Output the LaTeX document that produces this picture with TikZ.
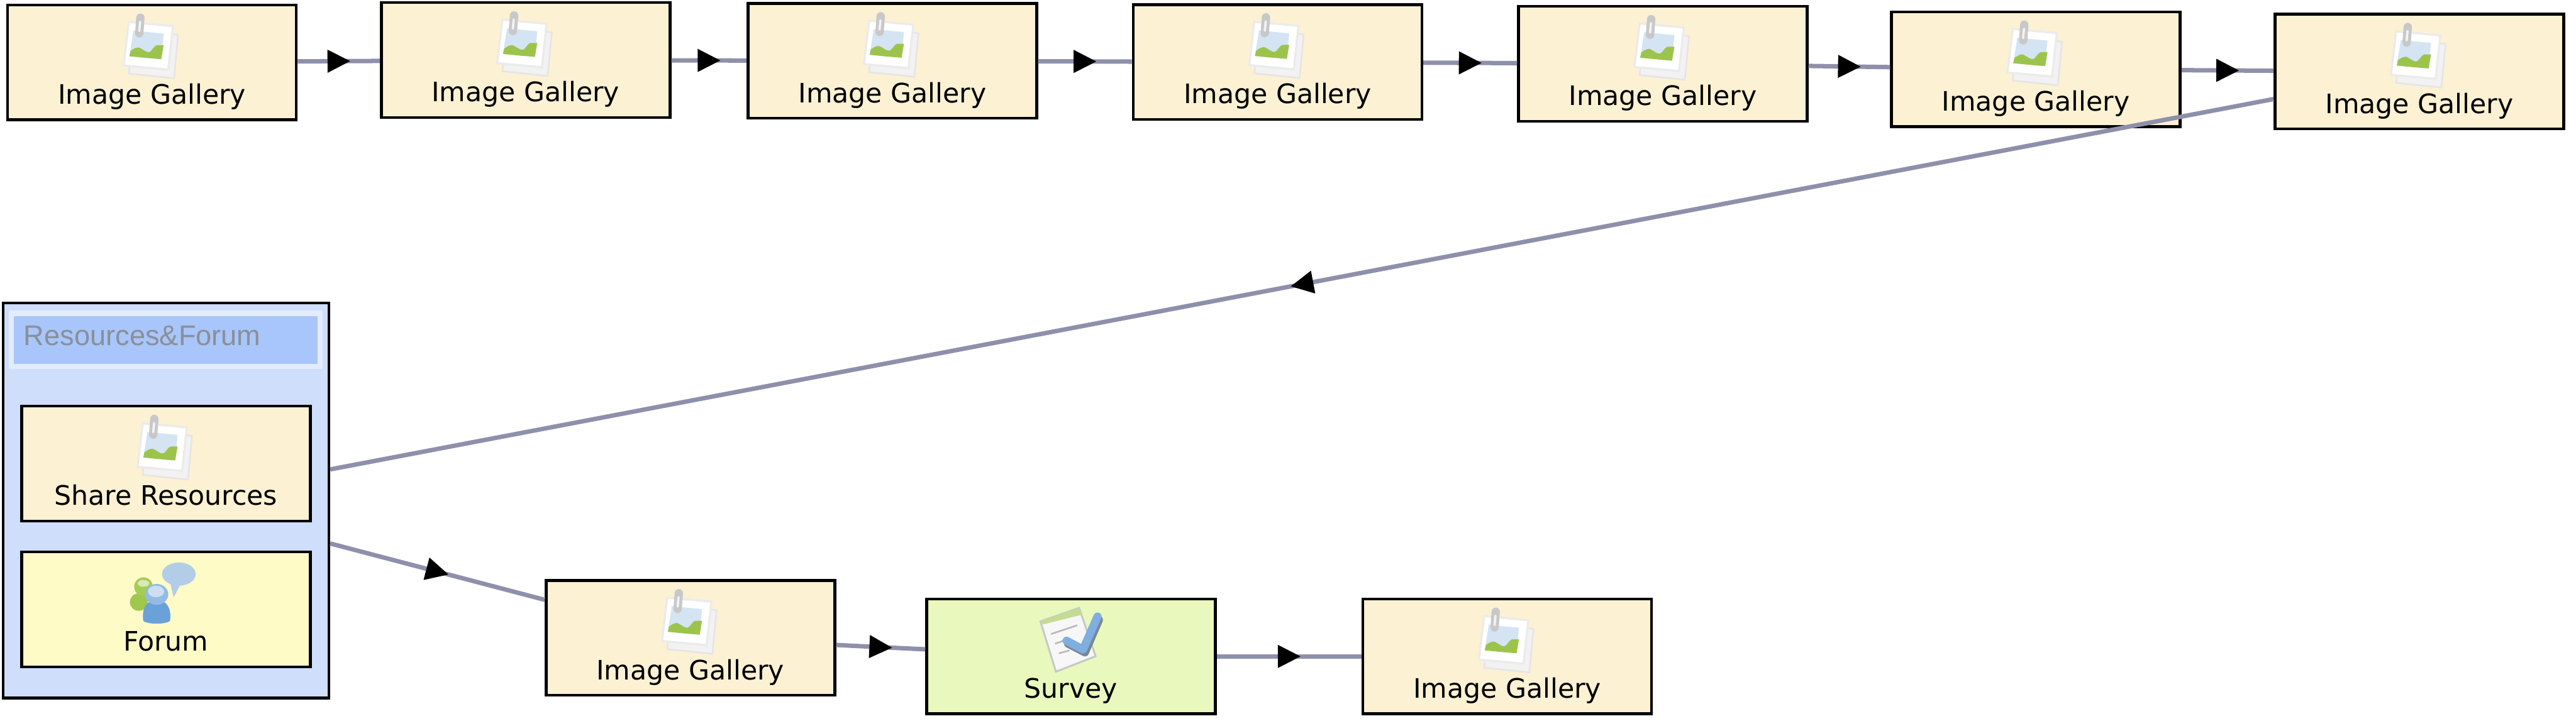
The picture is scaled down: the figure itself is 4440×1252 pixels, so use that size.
\documentclass[tikz,border=0pt]{standalone}
\usepackage{fontspec}
\setmainfont{DejaVu Sans}
\newfontfamily\arialfont{Liberation Sans}
\usetikzlibrary{decorations.markings}
\definecolor{galfill}{HTML}{FCF1D3}
\definecolor{forumfill}{HTML}{FEFBC7}
\definecolor{surveyfill}{HTML}{E9F8BD}
\definecolor{groupfill}{HTML}{CEDEFB}
\definecolor{titlefill}{HTML}{A8C6FB}
\definecolor{titleedge}{HTML}{E2ECFE}
\definecolor{titletext}{HTML}{8A8F99}
\definecolor{linkcol}{HTML}{8E90AB}
\tikzset{
  activity/.style={draw=black,line width=1.2pt,inner sep=0pt,minimum width=124.4pt,
    text height=42.7pt,text depth=6.8pt,font=\fontsize{11.55}{13}\selectfont},
  gallerybox/.style={activity,fill=galfill},
  forumbox/.style={activity,fill=forumfill},
  surveybox/.style={activity,fill=surveyfill},
  groupbox/.style={draw=black,line width=1.2pt,fill=groupfill,inner sep=0pt,
    minimum width=140.4pt,minimum height=170.4pt},
  titlebox/.style={draw=titleedge,line width=2.25pt,fill=titlefill,inner ysep=0pt,inner xsep=5.375pt,
    text height=13.75pt,text depth=9.125pt,text=titletext,font=\arialfont\fontsize{12.25}{14}\selectfont},
  flow/.style={draw=linkcol,line width=1.9pt,postaction={decorate},
    decoration={markings,mark=at position .5 with {\fill[black] (19.5,0)--(-19.5,-20)--(-19.5,20)--cycle;}}},
  pics/galleryicon/.style={code={
    \fill[draw=black!10,line width=.7pt,fill=black!5] (-32,-57)--(45,-47.5)--(38,27.5)--(-40,19.5)--cycle;
    \fill[draw=black!8,line width=.9pt,fill=white] (-40,-69.5)--(36,-62.5)--(28,12.5)--(-49,5.5)--cycle;
    \fill[color={rgb,255:red,212;green,228;blue,243}] (-32,-54.5)--(20,-49.5)--(16,-5.5)--(-39,-10.5)--cycle;
    \fill[color={rgb,255:red,156;green,196;blue,76}] (-37,-19.5) .. controls (-30,-25) and (-26,-26) .. (-22,-25.5)
       .. controls (-15,-22) and (-10,-17) .. (-5,-17.5) .. controls (0,-19) and (3,-28) .. (8,-29.5) -- (20,-29.5)
       -- (16,-5.5) -- (-9,-7.5) -- (-39,-10.5) -- cycle;
    \draw[color={rgb,255:red,200;green,200;blue,200},line width=3.6pt,line cap=round] (-20,-77)--(-22,-50);
    \draw[color=black!5,line width=1pt,line cap=round] (-20.5,-70)--(-22,-54);
  }},
  pics/forumicon/.style={code={
    \fill[color={rgb,255:red,179;green,205;blue,232}] (22.3,-61) ellipse [x radius=29,y radius=20];
    \fill[color={rgb,255:red,179;green,205;blue,232}] (7.3,-46)--(13.3,-21)--(24,-41)--cycle;
    \fill[color={rgb,255:red,160;green,200;blue,76}] (-46.7,-12.7) ellipse [x radius=15.5,y radius=15];
    \fill[color={rgb,255:red,165;green,204;blue,85}] (-38.7,-39.3) circle [radius=16];
    \fill[color={rgb,255:red,218;green,232;blue,180}] (-38.7,-45) ellipse [x radius=10,y radius=6];
    \fill[color={rgb,255:red,106;green,161;blue,217}] (-39,20) .. controls (-42,-2) and (-34,-16) .. (-16,-16)
       .. controls (2,-16) and (10,-2) .. (7,20) .. controls (-2,26) and (-30,26) .. (-39,20) -- cycle;
    \fill[color={rgb,255:red,146;green,187;blue,230}] (-16,-26) ellipse [x radius=20,y radius=18];
    \fill[color={rgb,255:red,205;green,222;blue,242}] (-17,-31) ellipse [x radius=14,y radius=10];
  }},
  pics/surveyicon/.style={code={
    \fill[draw=black!22,line width=.8pt,fill=black!3] (-52.7,-60.3)--(14,-83.7)--(42.3,-.3)--(-26,26.3)--cycle;
    \fill[color={rgb,255:red,196;green,220;blue,146}] (-52.7,-60.3)--(14,-83.7)--(19,-72)--(-47.7,-55.3)--cycle;
    \draw[color=black!28,line width=.7pt] (-34.3,-38.7)--(10.7,-53.7) (-27.7,-22)--(-12.7,-27) (-21,-5.3)--(-2.7,-10.3);
    \draw[color={rgb,255:red,120;green,135;blue,150},line width=3.5pt,line cap=round,line join=round] (-5,-22)--(24,-7)--(48,-63);
    \draw[color={rgb,255:red,127;green,174;blue,224},line width=3.5pt,line cap=round,line join=round] (-7.7,-27)--(20.7,-12)--(45.7,-68.7);
  }},
}
\newcommand{\boxlabelA}{Image Gallery}
\begin{document}
\begin{tikzpicture}[x=.25pt,y=-.25pt]
\useasboundingbox (0,0) rectangle (4440,1252);
% group
\node[groupbox] (grp) at (286,863) {};
\node[titlebox] (ttl) at (285.5,586) {\makebox[122.25pt][l]{Resources\&Forum}};
\node[gallerybox] (shr) at (286,799.5) {Share Resources};
\node[forumbox] (frm) at (286,1051) {Forum};
% top row
\node[gallerybox] (g1) at (262,107.5) {\boxlabelA};
\node[gallerybox] (g2) at (906,103.5) {\boxlabelA};
\node[gallerybox] (g3) at (1538,105) {\boxlabelA};
\node[gallerybox] (g4) at (2202,107) {\boxlabelA};
\node[gallerybox] (g5) at (2866,110) {\boxlabelA};
\node[gallerybox] (g6) at (3509,119.5) {\boxlabelA};
\node[gallerybox] (g7) at (4170,123.5) {\boxlabelA};
% bottom row
\node[gallerybox] (g8) at (1190,1100) {\boxlabelA};
\node[surveybox] (sv) at (1846,1132) {Survey};
\node[gallerybox] (g9) at (2598,1132) {\boxlabelA};
% icons
\foreach \n in {g1,g2,g3,g4,g5,g6,g7,g8,g9,shr} \pic at (\n.center) {galleryicon};
\pic at (frm.center) {forumicon};
\pic at (sv.center) {surveyicon};
% connectors
\draw[flow] (g1) -- (g2);
\draw[flow] (g2) -- (g3);
\draw[flow] (g3) -- (g4);
\draw[flow] (g4) -- (g5);
\draw[flow] (g5) -- (g6);
\draw[flow] (g6) -- (g7);
\draw[flow] (g7) -- (grp);
\draw[flow] (grp) -- (g8);
\draw[flow] (g8) -- (sv);
\draw[flow] (sv) -- (g9);
\end{tikzpicture}
\end{document}
